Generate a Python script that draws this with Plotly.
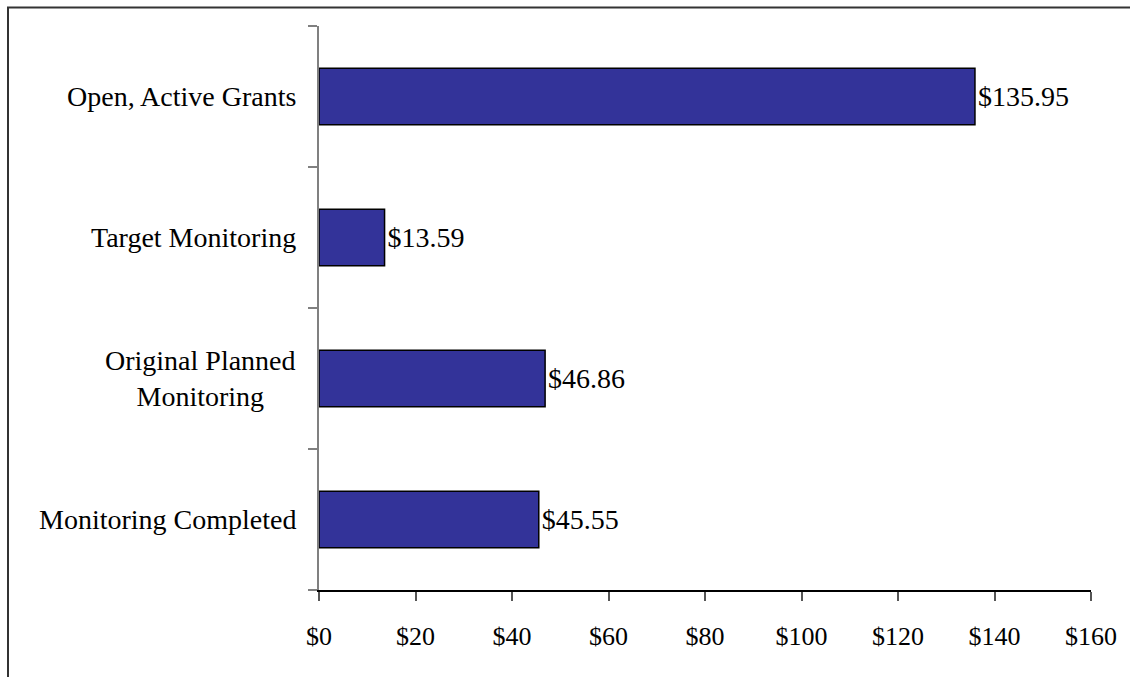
import plotly.graph_objects as go

# Categories listed bottom-to-top as they appear on the y axis
categories = [
    "Monitoring Completed",
    "Original Planned<br>Monitoring",
    "Target Monitoring",
    "Open, Active Grants",
]
amounts = [45.55, 46.86, 13.59, 135.95]
x_tick_values = [0, 20, 40, 60, 80, 100, 120, 140, 160]
x_tick_labels = ["$0", "$20", "$40", "$60", "$80", "$100", "$120", "$140", "$160"]

FONT = "Liberation Serif"
BAR_COLOR = "#333399"

fig = go.Figure(
    go.Bar(
        x=amounts,
        y=categories,
        orientation="h",
        marker=dict(color=BAR_COLOR, line=dict(color="#000000", width=1.5)),
        text=[f"${v:.2f}" for v in amounts],
        textposition="outside",
        textfont=dict(family=FONT, size=28, color="#000000"),
        cliponaxis=False,
        width=0.4,
    )
)

# Category labels, centred line by line, to the left of the axis
for cat in categories:
    fig.add_annotation(
        x=0, xref="paper", y=cat, yref="y",
        text=cat, showarrow=False,
        xanchor="right", yanchor="middle", align="center",
        xshift=-21,
        font=dict(family=FONT, size=28, color="#000000"),
    )

# Outer frame around the chart (right and bottom edges fall past the page edge)
fig.add_shape(
    type="rect", xref="paper", yref="paper",
    x0=(8 - 319) / 772, x1=(1140 - 319) / 772,
    y0=(590 - 700) / 564, y1=1 + 18.5 / 564,
    line=dict(color="#333333", width=2),
    fillcolor="rgba(0,0,0,0)",
    layer="below",
)

fig.update_layout(
    width=1130,
    height=677,
    margin=dict(l=319, r=39, t=26, b=87),
    paper_bgcolor="#ffffff",
    plot_bgcolor="#ffffff",
    showlegend=False,
    font=dict(family=FONT, size=26, color="#000000"),
    xaxis=dict(
        range=[0, 160],
        tickvals=x_tick_values,
        ticktext=x_tick_labels,
        showgrid=False,
        zeroline=False,
        showline=True,
        linecolor="#000000",
        linewidth=1.5,
        ticks="outside",
        ticklen=9,
        tickwidth=1.5,
        tickcolor="#555555",
        ticklabelstandoff=13,
        tickfont=dict(family=FONT, size=26, color="#000000"),
    ),
    yaxis=dict(
        type="category",
        categoryorder="array",
        categoryarray=categories,
        range=[-0.5, 3.5],
        showgrid=False,
        zeroline=False,
        showline=True,
        linecolor="#808080",
        linewidth=1.5,
        ticks="outside",
        tickson="boundaries",
        ticklen=9,
        tickwidth=1.5,
        tickcolor="#808080",
        showticklabels=False,
    ),
)

fig.write_html("out.html")
